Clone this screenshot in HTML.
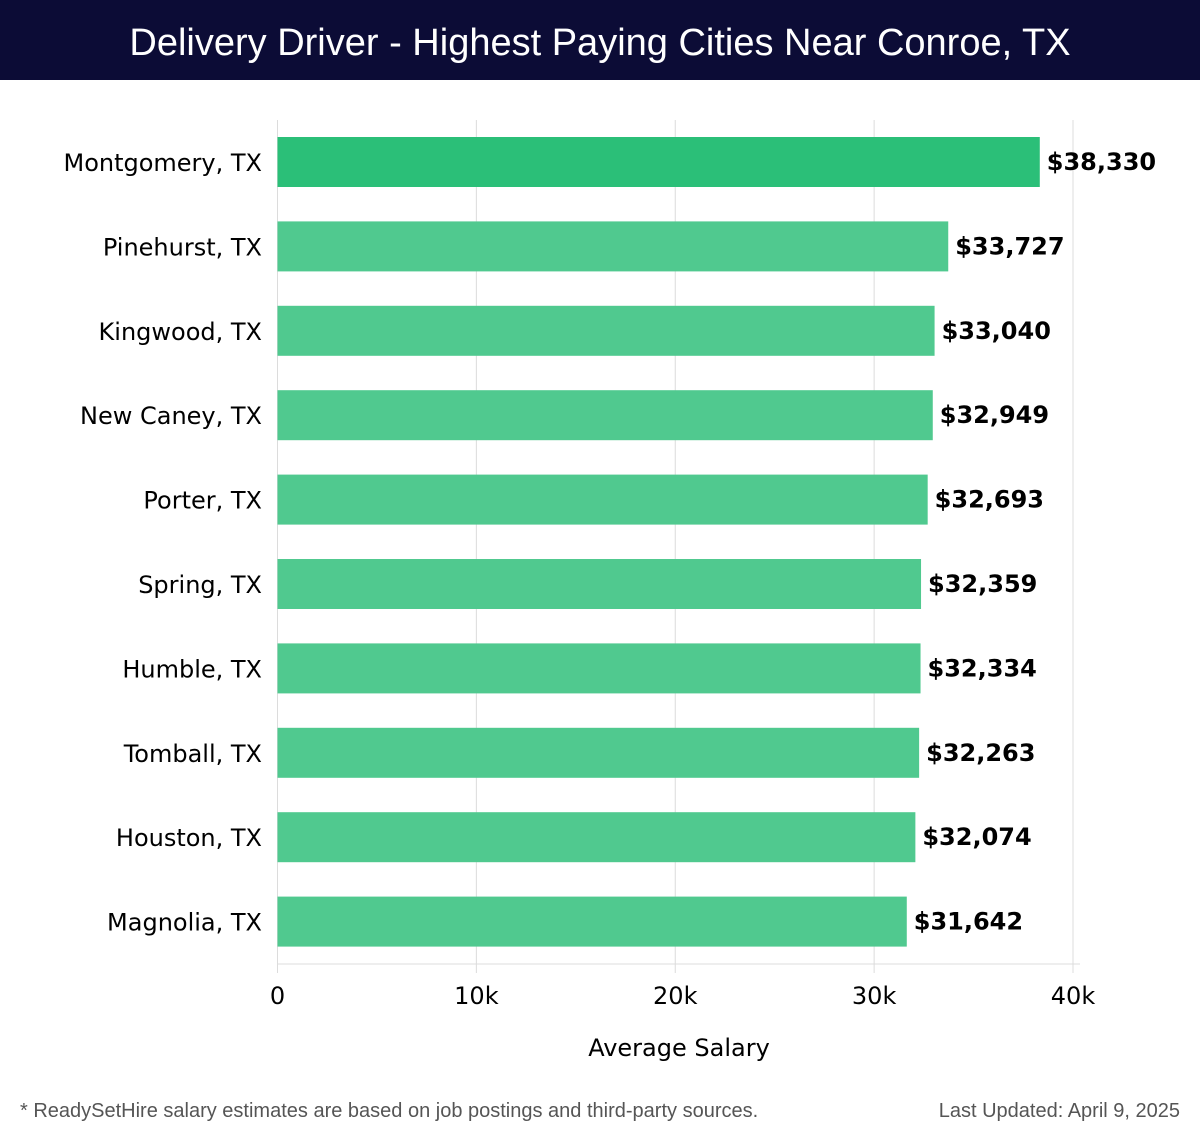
<!DOCTYPE html>
<html><head><meta charset="utf-8"><style>
body{margin:0;width:1200px;height:1140px;background:#fff;font-family:"DejaVu Sans","Liberation Sans",sans-serif;overflow:hidden}
#hdr{position:absolute;left:0;top:0;width:1200px;height:80px;background:#0c0c36;color:#fff;font-size:38px;text-align:center;line-height:86px;font-family:"Liberation Sans","DejaVu Sans",sans-serif}
.foot{position:absolute;top:1100px;font-size:20px;color:#555;font-family:"Liberation Sans",sans-serif}
</style></head><body>
<div id="hdr">Delivery Driver - Highest Paying Cities Near Conroe, TX</div>
<svg id="chart" width="1200" height="1140" style="position:absolute;left:0;top:0"></svg>
<div class="foot" style="left:20px">* ReadySetHire salary estimates are based on job postings and third-party sources.</div>
<div class="foot" style="right:20px">Last Updated: April 9, 2025</div>
<script>
const categories=["Montgomery, TX","Pinehurst, TX","Kingwood, TX","New Caney, TX","Porter, TX","Spring, TX","Humble, TX","Tomball, TX","Houston, TX","Magnolia, TX"];
const salaries=[38330,33727,33040,32949,32693,32359,32334,32263,32074,31642];
const valueLabels=["$38,330","$33,727","$33,040","$32,949","$32,693","$32,359","$32,334","$32,263","$32,074","$31,642"];
const tickValues=[0,10000,20000,30000,40000];
const tickLabels=["0","10k","20k","30k","40k"];
const NS="http://www.w3.org/2000/svg";
const svg=document.getElementById('chart');
const x0=277.5,x1=1073,plotTop=120,plotBottom=964,xMax=40000;
const xs=v=>x0+(x1-x0)*v/xMax;
const band=(plotBottom-plotTop)/categories.length;
const ys=i=>plotTop+i*band;
function mk(t,a){const e=document.createElementNS(NS,t);for(const k in a)e.setAttribute(k,a[k]);svg.appendChild(e);return e;}
tickValues.forEach((v,i)=>{
 const g=mk('line',{x1:xs(v),x2:xs(v),y1:plotTop,y2:973,stroke:'#dcdcdc','stroke-width':1});
 
 
 const t=mk('text',{x:xs(v),y:1004,'text-anchor':'middle','font-size':24,fill:'#000'});
 t.textContent=tickLabels[i];
 
 
});
const ax=mk('line',{x1:x0,x2:1080,y1:plotBottom,y2:plotBottom,stroke:'#dcdcdc'});


categories.forEach((c,i)=>{
 const y=ys(i)+17;
 const r=mk('rect',{x:x0,y:y,width:xs(salaries[i])-x0,height:50,fill:i==0?'#2bbf78':'#50c98f'});
 
 
 const l=mk('text',{x:262,y:y+34,'text-anchor':'end','font-size':24,fill:'#000'});
 l.textContent=c;
 
 
 const v=mk('text',{x:xs(salaries[i])+7,y:y+33,'font-size':24,'font-weight':'bold',fill:'#000'});
 v.textContent=valueLabels[i];
 
 
});
const xt=mk('text',{x:679,y:1056,'text-anchor':'middle','font-size':24,fill:'#000'});
xt.textContent='Average Salary';


</script>
</body></html>
